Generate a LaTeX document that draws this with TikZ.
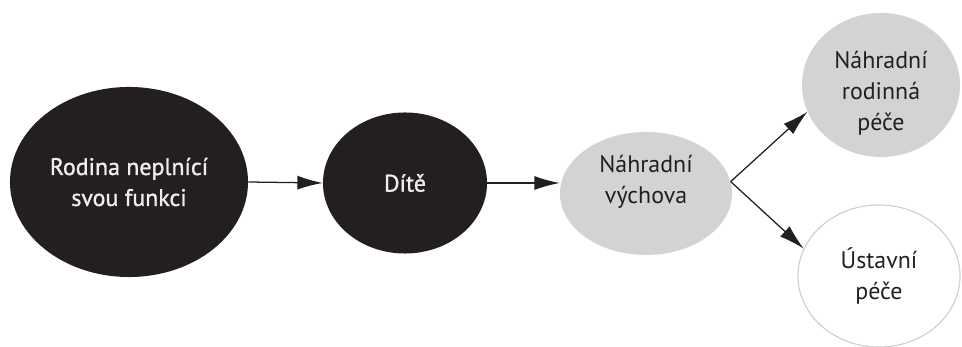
\documentclass[tikz,border=0pt]{standalone}
\usepackage{fontspec}
\setmainfont{PT Sans}
\newfontfamily\heavyfont[FakeBold=1.2]{PT Sans}
\usepackage{tikz}
\usetikzlibrary{arrows.meta,positioning,calc,shapes.geometric}
\definecolor{ink}{HTML}{231F20}
\definecolor{paleink}{HTML}{EDEDED}
\definecolor{greyfill}{HTML}{D1D3D4}
\definecolor{rimgrey}{HTML}{CFCFCF}

\begin{document}
\begin{tikzpicture}[x=0.025cm,y=0.025cm,>={Latex[length=18pt,width=10pt]},
 oval/.style={ellipse,inner sep=0pt},
 darkoval/.style={oval,fill=ink},
 greyoval/.style={oval,fill=greyfill},
 whiteoval/.style={oval,draw=rimgrey,line width=.8pt,fill=white},
 darktext/.style={align=center,font=\heavyfont\fontsize{17}{22}\selectfont,text=paleink},
 softtext/.style={align=center,font=\fontsize{17}{22}\selectfont,text=ink},
 flow/.style={->,draw=ink,line width=.9pt}]
\useasboundingbox (0,0) rectangle (962,347);
\node[darkoval,minimum width=5.95cm,minimum height=4.75cm,
 label={[darktext]center:Rodina neplnící\\svou funkci}] (rodina) at (129,165) {};
\node[darkoval,minimum width=4.10cm,minimum height=3.525cm,
 label={[darktext]center:Dítě}] (dite) at (405,164) {};
\node[greyoval,minimum width=4.30cm,minimum height=3.075cm,
 label={[softtext,yshift=.28cm]center:Náhradní\\výchova}] (vychova) at (646,153.5) {};
\node[greyoval,minimum width=3.95cm,minimum height=3.60cm,
 label={[softtext,yshift=-.2cm]center:Náhradní\\rodinná\\péče}] (rodpece) at (881,262) {};
\node[whiteoval,minimum width=4.05cm,minimum height=3.55cm,
 label={[softtext]center:Ústavní\\péče}] (ustav) at (879,71) {};

\draw[flow] (rodina.east)--(dite.west);
\draw[flow] (dite.east)--(dite.east -| vychova.west);
\draw[flow] (vychova.8)--(rodpece.200);
\draw[flow] (vychova.8)--(ustav.160);
\end{tikzpicture}
\end{document}
